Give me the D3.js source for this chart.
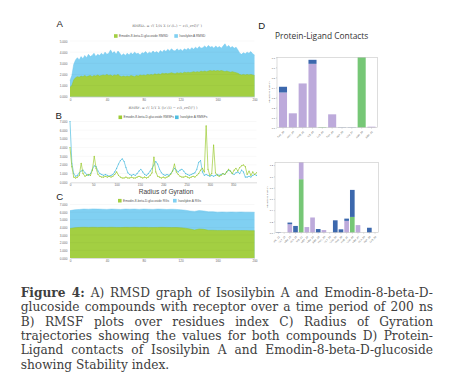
<!DOCTYPE html>
<html><head><meta charset="utf-8">
<script src="https://cdn.jsdelivr.net/npm/d3@7"></script>
<style>body{margin:0;background:#fff}svg{display:block}</style>
</head><body>
<script>
// ---------- DATA ----------
// A) RMSD (ns, every 2 ns)
const rmsdTime = d3.range(0, 201, 2);
const rmsdIsosilybin = [1.45,1.9,2.9,3.3,3.5,3.3,3.6,3.4,3.7,3.5,3.8,3.6,3.7,3.9,3.6,3.8,3.7,3.9,3.75,4.0,3.8,3.9,4.2,3.9,4.05,3.8,4.1,3.9,3.7,3.85,3.7,3.9,3.75,3.95,3.8,4.0,3.85,3.9,3.75,3.95,3.9,4.05,3.85,4.0,3.9,4.1,3.95,4.05,3.9,4.15,4.0,4.2,4.05,4.25,4.1,4.3,4.15,4.1,4.3,4.15,4.25,4.1,4.3,4.2,4.35,4.2,4.4,4.25,4.45,4.3,4.5,4.35,4.4,4.55,4.4,4.6,4.45,4.5,4.35,4.55,4.4,4.5,4.35,4.55,4.75,4.45,4.6,4.4,4.5,4.35,4.45,4.2,3.9,3.8,3.95,3.85,4.0,3.9,4.05,3.85,3.75];
const rmsdEmodin = [0.85,1.0,1.5,1.7,1.8,1.75,1.85,1.8,1.9,1.8,1.85,1.9,1.8,1.9,1.85,1.95,1.85,1.9,1.95,1.9,2.0,1.9,1.95,1.85,1.95,1.9,2.0,1.85,1.8,1.85,1.8,1.85,1.8,1.9,1.85,1.8,1.9,1.85,1.95,1.9,1.95,1.9,2.0,1.95,2.0,1.95,2.05,2.0,2.05,2.0,2.1,2.05,2.1,2.05,2.1,2.15,2.1,2.05,2.15,2.1,2.15,2.1,2.2,2.15,2.2,2.15,2.2,2.25,2.2,2.25,2.2,2.3,2.25,2.3,2.25,2.3,2.35,2.3,2.35,2.3,2.35,2.3,2.35,2.3,2.25,2.3,2.25,2.2,2.25,2.2,2.15,2.1,2.0,1.95,2.0,1.95,2.0,1.95,2.0,1.95,1.9];
const rmsdXTicks = [0,40,80,120,160,200];
const rmsdYTicks = [0,1,2,3,4,5];

// B) RMSF (residue index, every 4 residues)
const rmsfResidue = d3.range(0, 401, 4);
const rmsfIsosilybin = [7.0,2.2,1.0,0.7,0.8,1.1,1.3,1.4,1.1,0.9,0.8,1.0,1.5,1.9,1.8,1.3,1.0,0.9,0.8,0.9,0.8,0.7,0.8,0.9,1.2,1.6,2.1,2.5,2.7,2.4,1.7,1.1,0.9,0.8,0.9,0.8,1.0,1.3,1.5,1.2,0.9,0.8,1.0,1.3,1.6,2.0,2.4,2.1,1.5,1.1,0.9,0.8,0.9,0.8,1.0,1.3,1.6,1.4,1.2,1.4,1.5,1.3,1.0,0.9,0.8,0.9,1.0,1.1,1.5,2.3,2.5,1.2,0.8,0.9,0.8,0.7,0.8,0.7,0.8,0.9,0.8,0.9,1.0,0.9,1.2,1.4,1.3,1.0,0.9,1.1,1.2,1.0,1.4,1.2,0.6,0.6,0.7,0.6,0.8,0.9,0.8];
const rmsfEmodin = [4.0,1.8,0.6,0.5,0.6,0.8,2.2,1.0,0.7,0.8,0.9,0.8,1.4,3.0,1.6,0.9,0.7,0.6,0.6,0.7,0.6,0.7,0.6,0.7,0.9,1.2,0.8,0.6,0.5,0.5,0.6,0.5,0.5,0.6,0.5,0.5,0.6,0.7,0.6,0.5,0.6,0.5,0.6,0.8,1.1,2.9,1.2,0.7,0.6,0.5,0.6,0.5,0.6,0.7,0.9,1.3,2.1,1.2,0.9,0.7,0.6,0.6,0.7,0.6,0.5,0.6,0.7,0.6,0.8,1.0,1.4,1.6,1.2,6.5,1.5,0.8,1.0,4.3,1.1,0.8,0.7,0.8,1.0,0.9,1.2,1.5,1.3,1.0,1.4,1.6,1.3,1.7,1.9,2.0,1.8,0.9,1.3,0.8,1.2,0.9,1.1];
const rmsfXTicks = [0,50,100,150,200,250,300,350];
const rmsfYTicks = [0,1,2,3,4,5,6,7];

// C) Radius of gyration (every 5 ns)
const rgTime = d3.range(0, 201, 5);
const rgIsosilybin = [6.2,6.3,6.35,6.4,6.38,6.42,6.4,6.38,6.36,6.4,6.38,6.35,6.4,6.38,6.4,6.36,6.4,6.38,6.36,6.4,6.38,6.35,6.38,6.36,6.3,6.25,6.15,6.1,6.2,6.15,6.05,6.05,6.0,6.02,6.0,6.02,6.0,6.02,6.0,6.0,5.98];
const rgEmodin = [3.85,3.95,4.0,4.02,4.0,4.02,4.0,4.01,4.0,4.02,4.0,3.99,4.01,4.0,4.02,4.0,4.01,4.0,3.99,4.0,4.01,4.0,3.98,3.99,3.95,3.9,3.8,3.65,3.8,3.75,3.62,3.62,3.6,3.61,3.6,3.59,3.6,3.6,3.59,3.58,3.58];
const rgXTicks = [0,40,80,120,160,200];
const rgYTicks = [0,1,2,3,4,5,6,7];

const seriesNames = {
  A: ["Emodin-8-beta-D-glucoside RMSD", "Isosilybin A RMSD"],
  B: ["Emodin-8-beta-D-glucoside RMSFs", "Isosilybin A RMSFs"],
  C: ["Emodin-8-beta-D-glucoside RGs", "Isosilybin A RGs"]
};

// D) Protein-ligand contacts
const contactTypes = ["H-bonds", "Hydrophobic", "Water bridges"];
const contactResTop = ["TYR_39","ARG_40","PHE_42","ILE_45","LYS_46","TRP_49","ASP_55","GLU_57","ASN_59","SER_62"];
const topHbond      = [0,0,0,0,0.006,0,0,0,0.72,0];
const topHydrophob  = [0.35,0.143,0.44,0.635,0,0.133,0,0,0,0.01];
const topWater      = [0.057,0,0,0.04,0,0,0.003,0.003,0,0];
const contactTopTicks = [0,0.1,0.2,0.3,0.4,0.5,0.6,0.7];

const contactResBot = ["VAL_12","GLY_13","LEU_15","ALA_18","HIS_21","MET_24","LEU_26","SER_28","PRO_30","GLY_33","GLU_36","THR_38","PHE_41","GLN_44","LEU_47","ALA_50","ASP_53","LYS_56"];
const botHbond      = [0,0,0,0,0.95,0,0,0,0,0,0,0,0,0.28,0,0,0,0];
const botHydrophob  = [0,0,0.15,0,0.35,0.1,0.27,0,0.047,0,0,0,0.21,0,0.135,0,0,0];
const botWater      = [0.01,0,0.03,0.12,0,0,0,0.065,0,0,0.22,0.06,0.04,0.48,0,0,0.088,0];
const contactBotTicks = [0,0.2,0.4,0.6,0.8,1.0,1.2];

const captionLines = [
  " A) RMSD graph of Isosilybin A and Emodin-8-beta-D-",
  "glucoside compounds with receptor over a time period of 200 ns",
  "B) RMSF plots over residues index C) Radius of Gyration",
  "trajectories showing the values for both compounds D) Protein-",
  "Ligand contacts of Isosilybin A and Emodin-8-beta-D-glucoside",
  "showing Stability index."
];

// ---------- DRAW ----------
const svg = d3.select("body").append("svg").attr("width", 457).attr("height", 381);
svg.append("rect").attr("width", 457).attr("height", 381).attr("fill", "#fff");

const GREEN = "#a3cf42", BLUE = "#80d0f2", GREEN_L = "#9ccb34", BLUE_L = "#4fbde0";
const SANS = "Liberation Sans, Arial, sans-serif";

function panelLetter(t, x, y) {
  svg.append("text").attr("x", x).attr("y", y).attr("font-family", SANS)
    .attr("font-size", 9.6).attr("fill", "#222").text(t);
}
function legend(y, x1, x2, names, cols) {
  [x1, x2].forEach((x, i) => {
    svg.append("rect").attr("x", x).attr("y", y - 1.8).attr("width", 3.6).attr("height", 3.6).attr("fill", cols[i]);
    svg.append("text").attr("x", x + 5).attr("y", y).attr("dominant-baseline", "middle")
      .attr("font-family", SANS).attr("font-size", 3.2).attr("fill", "#555").text(names[i]);
  });
}
function formula(x, y, txt) {
  svg.append("text").attr("x", x).attr("y", y).attr("text-anchor", "middle").attr("dominant-baseline", "middle")
    .attr("font-family", "DejaVu Serif, serif").attr("font-size", 3.6).attr("fill", "#666").text(txt);
}
function axes(x, y, xt, yt) {
  const g = svg.append("g");
  const x0 = x.range()[0], x1 = x.range()[1];
  g.selectAll("line.grid").data(yt.slice(1)).join("line")
    .attr("x1", x0).attr("x2", x1).attr("y1", d => y(d)).attr("y2", d => y(d))
    .attr("stroke", "#000").attr("stroke-opacity", 0.07).attr("stroke-width", 0.4);
  const ya = svg.append("g").attr("transform", `translate(${x0},0)`)
    .call(d3.axisLeft(y).tickValues(yt).tickSize(0).tickPadding(2.5).tickFormat(d3.format(".3f")));
  ya.select(".domain").remove();
  ya.selectAll("text").attr("font-size", 3.1).attr("font-family", SANS).attr("fill", "#666");
  const xa = svg.append("g").attr("transform", `translate(0,${y(0)})`)
    .call(d3.axisBottom(x).tickValues(xt).tickSize(0).tickPadding(2).tickFormat(d3.format("d")));
  xa.select(".domain").attr("stroke", "#bbb").attr("stroke-width", 0.5);
  xa.selectAll("text").attr("font-size", 3.1).attr("font-family", SANS).attr("fill", "#666");
}
function areaPanel(xs, yBlue, yGreen, x, y) {
  const mk = () => d3.area().x((d, i) => x(xs[i])).y0(y(0)).y1(d => y(d));
  const ln = () => d3.line().x((d, i) => x(xs[i])).y(d => y(d));
  svg.append("path").datum(yBlue).attr("d", mk()).attr("fill", BLUE);
  svg.append("path").datum(yBlue).attr("d", ln()).attr("fill", "none").attr("stroke", "#6cc6ee").attr("stroke-width", 0.5);
  svg.append("path").datum(yGreen).attr("d", mk()).attr("fill", GREEN);
  svg.append("path").datum(yGreen).attr("d", ln()).attr("fill", "none").attr("stroke", "#93c52e").attr("stroke-width", 0.5);
}

// Panel A
panelLetter("A", 56.5, 27.4);
formula(167, 26, "RMSDₓ = √( 1/N Σ (r′ᵢ(tₓ) − rᵢ(t_ref))² )");
legend(36, 114, 174.3, seriesNames.A, [GREEN, BLUE]);
{
  const x = d3.scaleLinear().domain([0, 200]).range([70, 254.5]);
  const y = d3.scaleLinear().domain([0, 5]).range([96.7, 41]);
  areaPanel(rmsdTime, rmsdIsosilybin, rmsdEmodin, x, y);
  axes(x, y, rmsdXTicks, rmsdYTicks);
}

// Panel B
panelLetter("B", 55.5, 118.6);
formula(163, 108, "RMSFᵢ = √( 1/T Σ ⟨(r′ᵢ(t) − rᵢ(t_ref))²⟩ )");
legend(117.3, 118.5, 175, seriesNames.B, [GREEN_L, BLUE_L]);
{
  const x = d3.scaleLinear().domain([0, 400]).range([70, 256.5]);
  const y = d3.scaleLinear().domain([0, 7]).range([182.3, 121.5]);
  axes(x, y, rmsfXTicks, rmsfYTicks);
  const line = d3.line().x((d, i) => x(rmsfResidue[i])).y(d => y(d));
  [[rmsfIsosilybin, BLUE_L], [rmsfEmodin, GREEN_L]].forEach(([vals, c]) => {
    svg.append("path").datum(vals).attr("d", line).attr("fill", "none").attr("stroke", c).attr("stroke-width", 0.7);
    svg.append("g").selectAll("circle").data(vals).join("circle")
      .attr("cx", (d, i) => x(rmsfResidue[i])).attr("cy", d => y(d)).attr("r", 0.55).attr("fill", c);
  });
}

// Panel C
panelLetter("C", 56.3, 200.3);
svg.append("text").attr("x", 166).attr("y", 193.8).attr("text-anchor", "middle")
  .attr("font-family", SANS).attr("font-size", 6.6).attr("fill", "#444").text("Radius of Gyration");
legend(200.7, 118, 173, seriesNames.C, [GREEN, BLUE]);
{
  const x = d3.scaleLinear().domain([0, 200]).range([70, 254.5]);
  const y = d3.scaleLinear().domain([0, 7]).range([258, 204.5]);
  areaPanel(rgTime, rgIsosilybin, rgEmodin, x, y);
  axes(x, y, rgXTicks, rgYTicks);
}

// Panel D
panelLetter("D", 258.3, 28.6);
svg.append("text").attr("x", 275).attr("y", 38.6).attr("font-family", "Open Sans, sans-serif")
  .attr("font-size", 8.4).attr("fill", "#333").text("Protein-Ligand Contacts");

const CCOL = ["#76c776", "#bdaadb", "#3c68ad"];
function contactPanel(res, series, ticks, x0, x1, yTop, yBot, ymax, fmt) {
  const x = d3.scaleBand().domain(res).range([x0, x1]).paddingInner(0.18).paddingOuter(0.2);
  const y = d3.scaleLinear().domain([0, ymax]).range([yBot, yTop]);
  const rows = res.map((r, i) => ({ r, a: series[0][i], b: series[1][i], c: series[2][i] }));
  const stack = d3.stack().keys(["a", "b", "c"])(rows);
  const id = "clip" + Math.round(yTop);
  svg.append("clipPath").attr("id", id).append("rect").attr("x", x0).attr("y", yTop).attr("width", x1 - x0).attr("height", yBot - yTop);
  const g = svg.append("g").attr("clip-path", `url(#${id})`);
  stack.forEach((s, k) => {
    g.selectAll("rect.s" + k).data(s).join("rect")
      .attr("x", d => x(d.data.r)).attr("width", x.bandwidth())
      .attr("y", d => y(d[1])).attr("height", d => Math.max(0, y(d[0]) - y(d[1])))
      .attr("fill", CCOL[k]);
  });
  svg.append("rect").attr("x", x0).attr("y", yTop).attr("width", x1 - x0).attr("height", yBot - yTop)
    .attr("fill", "none").attr("stroke", "#bbb").attr("stroke-width", 0.5);
  const ya = svg.append("g").attr("transform", `translate(${x0},0)`)
    .call(d3.axisLeft(y).tickValues(ticks).tickSize(1).tickPadding(1).tickFormat(d3.format(fmt)));
  ya.select(".domain").remove();
  ya.selectAll("line").attr("stroke", "#888").attr("stroke-width", 0.3);
  ya.selectAll("text").attr("font-size", 2.4).attr("font-family", SANS).attr("fill", "#555");
  const xa = svg.append("g").attr("transform", `translate(0,${yBot})`)
    .call(d3.axisBottom(x).tickSize(1).tickPadding(1));
  xa.select(".domain").remove();
  xa.selectAll("line").attr("stroke", "#888").attr("stroke-width", 0.3);
  xa.selectAll("text").attr("font-size", 2.4).attr("font-family", SANS).attr("fill", "#555")
    .attr("text-anchor", "end").attr("dy", 0).attr("transform", "translate(0,3) rotate(-45)");
  svg.append("text").attr("transform", `translate(${x0 - 7},${(yTop + yBot) / 2}) rotate(-90)`)
    .attr("text-anchor", "middle").attr("font-family", SANS).attr("font-size", 2.4).attr("fill", "#555")
    .text("Interactions Fraction");
}
contactPanel(contactResTop, [topHbond, topHydrophob, topWater], contactTopTicks, 277, 377.5, 57.3, 127.7, 0.7, ".1f");
contactPanel(contactResBot, [botHbond, botHydrophob, botWater], contactBotTicks, 275, 378.5, 162.3, 232.7, 1.25, ".1f");

// Caption
const capX0 = 20.7, capX1 = 433, capY0 = 297, capDy = 14.3;
const cap = svg.append("g").attr("font-family", "DejaVu Serif, serif").attr("font-size", 12.2).attr("fill", "#404040");
captionLines.forEach((t, i) => {
  const tx = cap.append("text").attr("x", capX0).attr("y", capY0 + i * capDy);
  if (i === 0) tx.append("tspan").attr("font-weight", "bold").text("Figure 4:");
  tx.append("tspan").text(t);
  if (i < captionLines.length - 1) {
    const w = tx.node().getComputedTextLength();
    const full = (i === 0 ? "Figure 4:" : "") + t;
    const spaces = (full.trim().match(/ /g) || []).length;
    if (spaces > 0) tx.attr("word-spacing", (capX1 - capX0 - w) / spaces);
  }
});
</script>
</body></html>
